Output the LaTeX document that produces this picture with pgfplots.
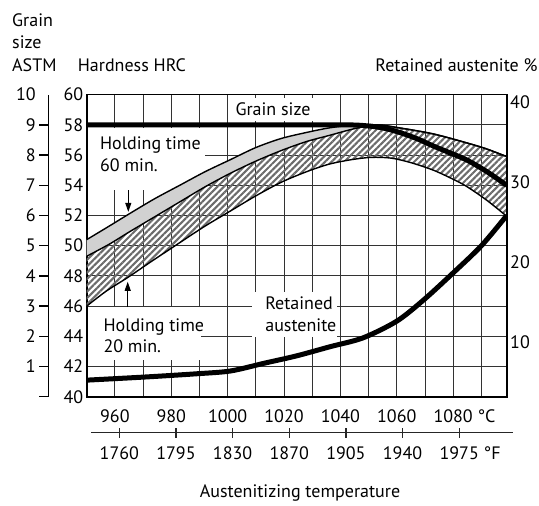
\documentclass[border=0pt]{standalone}
\usepackage{fontspec}
\setmainfont{PT Sans}
\usepackage{pgfplots}
\usepackage{pgfplotstable}
\pgfplotsset{compat=1.18}
\usepgfplotslibrary{fillbetween}
\usetikzlibrary{patterns.meta,arrows.meta}
\newcommand{\ff}{\fontsize{18bp}{21.5bp}\selectfont}

% Hardness, holding time 60 min, upper boundary (HRC)
\pgfplotstableread{
x y
950 50.4
958 51.3
965 52.1
974 53.1
983 54.0
992 54.9
1001 55.7
1010 56.5
1019 57.1
1028 57.5
1036 57.8
1045 58.0
1053 58.0
1061 57.8
1073 57.4
1085 56.8
1092 56.4
1099 55.9
}\Ttab
% middle boundary (HRC)
\pgfplotstableread{
x y
950 49.3
958 50.1
965 50.9
974 51.9
983 52.9
992 53.9
1001 54.8
1010 55.6
1019 56.3
1028 56.9
1036 57.3
1045 57.75
1053 58.0
1061 57.8
1073 57.4
1085 56.8
1092 56.4
1099 55.9
}\Mtab
% Hardness, holding time 20 min, lower boundary (HRC)
\pgfplotstableread{
x y
950 46.0
957 47.0
964.6 47.9
972.5 48.9
983 50.2
992 51.3
1001 52.3
1010 53.3
1019 54.2
1028 54.9
1036 55.4
1044 55.7
1051 55.85
1058 55.8
1065 55.5
1073 55.0
1080 54.4
1085 53.9
1092 53.0
1099 51.95
}\Btab
% Grain size ASTM
\pgfplotstableread{
x y
950 9
1000 9
1040 9
1048 8.98
1055 8.9
1061 8.75
1067 8.55
1073 8.3
1079 8.07
1085 7.83
1092 7.45
1099 7.0
}\Gtab
% Retained austenite %
\pgfplotstableread{
x y
950 5.2
971 5.6
989 6.0
1001 6.35
1012.7 7.3
1024.5 8.25
1036.4 9.4
1048 10.5
1060 12.6
1069.5 15.25
1080 18.65
1090 22.05
1099 25.85
}\Rtab

\begin{document}
\begin{tikzpicture}[font=\ff]
\pgfplotsset{base/.style={at={(0,0)},anchor=south west,width=420bp,height=302bp,
  scale only axis,xmin=950,xmax=1099,
  /pgf/number format/assume math mode=true,
  tick label style={font=\ff}}}
% main axis (HRC)
\begin{axis}[base, ymin=40, ymax=60, set layers,
  xtick={960,980,...,1080},
  minor xtick={970,990,...,1090},
  xticklabels={960,980,1000,1020,1040,1060,{1080\rlap{ °C}}},
  ytick={40,42,...,60},
  major tick length=0, minor tick length=0,
  grid=both,
  grid style={black!80, line width=0.9bp},
  minor grid style={black!80, line width=0.9bp},
  axis line style={line width=1.6bp},
  xticklabel style={yshift=-9.5bp}]
  % white label boxes (cover grid only)
  \begin{pgfonlayer}{pre main}
  \fill[white] (axis cs:1001.9,59.77) rectangle (axis cs:1030.3,58.25);
  \fill[white] (axis cs:950.5,57.78) rectangle (axis cs:991.97,53.68);
  \fill[white] (axis cs:950.5,45.93) rectangle (axis cs:990.6,42.42);
  \fill[white] (axis cs:1008.6,46.93) rectangle (axis cs:1038.8,43.95);
  \end{pgfonlayer}
  % bands
  \addplot[draw=none, name path=T, smooth] table {\Ttab};
  \addplot[draw=none, name path=M, smooth] table {\Mtab};
  \addplot[draw=none, name path=B, smooth] table {\Btab};
  \addplot[fill=black!18, draw=none] fill between[of=T and M];
  \addplot[pattern={Lines[angle=45,distance=4.5bp,line width=2.1bp]}, pattern color=black!58, draw=none] fill between[of=M and B];
  \addplot[black, line width=1.4bp, smooth] table {\Ttab};
  \addplot[black, line width=1.4bp, smooth] table {\Mtab};
  \addplot[black, line width=1.4bp, smooth] table {\Btab};
  % labels
  \node[inner sep=0] at (axis cs:1016.1,59.05) {Grain size};
  \node[inner sep=0, anchor=north west, align=left] at (axis cs:954.7,57.21) {Holding time\\60 min.};
  \draw[line width=1bp, -{Triangle[length=9bp,width=6bp]}] (axis cs:964.76,53.68) -- (axis cs:964.76,52.24);
  \node[inner sep=0, anchor=north west, align=left] at (axis cs:955.9,45.19) {Holding time\\20 min.};
  \draw[line width=1bp, -{Triangle[length=9bp,width=6bp]}] (axis cs:964.55,45.93) -- (axis cs:964.55,47.61);
  \node[inner sep=0, anchor=north west, align=left] at (axis cs:1013.3,46.62) {Retained\\austenite};
\end{axis}
% retained austenite (right axis)
\begin{axis}[base, ymin=3.125, ymax=41.0,
  hide x axis, axis y line*=right, axis line style={draw=none},
  ytick={10,20,30,40}, major tick length=0]
  \addplot[black, line width=5bp, smooth] table {\Rtab};
\end{axis}
% grain size curve (hidden axis)
\begin{axis}[base, ymin=0, ymax=10, hide axis]
  \addplot[black, line width=5bp, smooth, tension=0.5] table {\Gtab};
\end{axis}
% grain size scale
\begin{axis}[at={(-38.4bp,0)}, anchor=south west, width=10bp, height=302bp,
  scale only axis, xmin=0, xmax=1, ymin=0, ymax=10,
  hide x axis, axis y line*=left,
  axis line style={-, line width=1.3bp},
  ytick={0,1,...,9}, yticklabels={,1,2,3,4,5,6,7,8,9},
  extra y ticks={10}, extra y tick labels={10},
  extra y tick style={major tick length=0, yticklabel style={xshift=-9bp}},
  tick align=outside, major tick length=9bp,
  tick style={line width=1.3bp, black},
  /pgf/number format/assume math mode=true,
  tick label style={font=\ff}]
  \addplot[draw=none] coordinates {(0,0) (1,10)};
\end{axis}
% Fahrenheit scale
\begin{axis}[at={(4.3bp,-36bp)}, anchor=south west, width=422bp, height=10bp,
  scale only axis, xmin=950, xmax=1099, ymin=0, ymax=1,
  hide y axis, axis x line*=bottom,
  axis line style={-, line width=1.2bp, black!85},
  xtick={960,980,...,1080},
  xticklabels={1760,1795,1830,1870,1905,1940,{1975\rlap{ °F}}},
  tick align=center, major tick length=10bp,
  tick style={line width=1.2bp, black!85},
  xticklabel style={yshift=-5bp},
  /pgf/number format/assume math mode=true,
  tick label style={font=\ff}]
  \addplot[draw=none] coordinates {(960,0) (1080,1)};
\end{axis}
% outer texts
\node[inner sep=0, anchor=base west] at (-74.7bp,370bp) {Grain};
\node[inner sep=0, anchor=base west] at (-74.7bp,348bp) {size};
\node[inner sep=0, anchor=base west] at (-74.7bp,325bp) {ASTM};
\node[inner sep=0, anchor=base west] at (-9bp,325bp) {Hardness HRC};
\node[inner sep=0, anchor=base east] at (451bp,325bp) {Retained austenite \%};
\node[inner sep=0, anchor=base] at (213.3bp,-100.8bp) {Austenitizing temperature};
\path (-86.7bp,-109.3bp) rectangle (452.3bp,396.7bp);
\end{tikzpicture}
\end{document}
